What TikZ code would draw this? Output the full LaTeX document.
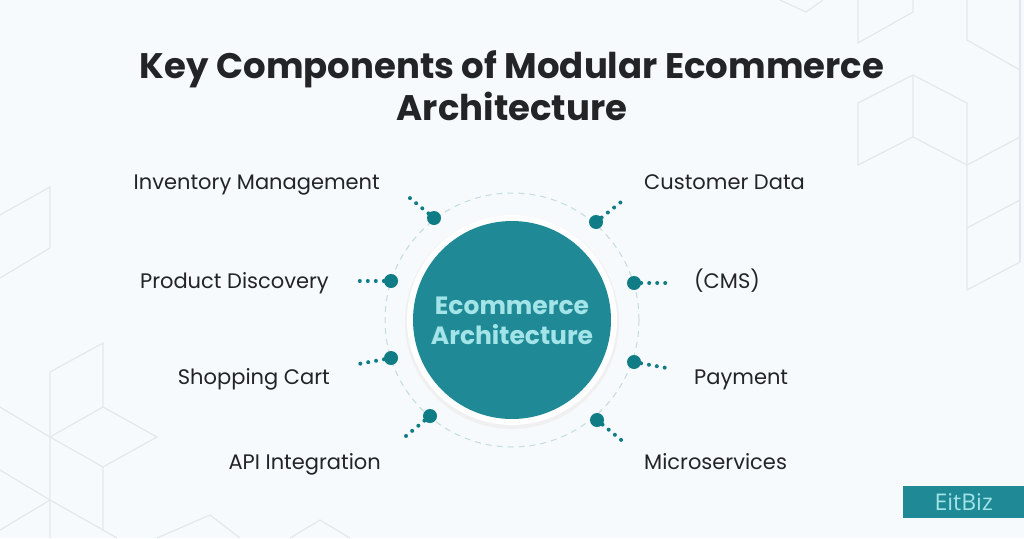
\documentclass[tikz,border=0pt]{standalone}
\usepackage{fontspec}
\setmainfont{Poppins}
\newfontfamily\tagfont{Open Sans}
\usetikzlibrary{positioning,calc}

\definecolor{bgpaper}{HTML}{F6FAFC}
\definecolor{teal}{HTML}{1F8A96}
\definecolor{tealdot}{HTML}{0F7C86}
\definecolor{tealtext}{HTML}{A3E4E8}
\definecolor{inkdark}{HTML}{222426}
\definecolor{cubeline}{HTML}{E3E8EC}
\definecolor{ringdash}{HTML}{C3DCDF}

\begin{document}
\begin{tikzpicture}[x=1pt,y=-1pt]
  \tikzstyle{hub}=[circle,fill=teal,minimum size=198pt,inner sep=0pt]
  \tikzstyle{dotnode}=[circle,fill=tealdot,minimum size=14pt,inner sep=0pt]
  \tikzstyle{lbl}=[font=\fontsize{21}{25}\selectfont,text=inkdark,inner sep=0pt]
  \tikzstyle{trail}=[tealdot,line width=4pt,line cap=round,dash pattern=on 0pt off 8pt]

  % paper and bounding box
  \fill[bgpaper] (0,0) rectangle (1024,538);
  \useasboundingbox (0,0) rectangle (1024,538);

  % faint cube pattern
  \begin{scope}[cubeline,line width=1.2pt]
    \draw (858,0) -- (858,43) -- (913,12) -- (913,0);
    \draw (780,0) -- (806,12) -- (823,0);
    \draw (858,103) -- (913,75) -- (967,103) -- (967,290);
    \draw (913,75) -- (913,137) -- (967,165) -- (1020,137);
    \draw (858,103) -- (858,165) -- (913,137);
    \draw (967,0) -- (967,40) -- (1020,70);
    \draw (1020,0) -- (1020,262);
    \draw (967,228) -- (1020,200);
    \draw (967,290) -- (1020,262);
    \draw (0,215) -- (50,187) -- (50,248) -- (0,278);
    \draw (50,538) -- (50,372) -- (103,343) -- (103,407) -- (157,437) -- (103,467) -- (50,437);
    \draw (0,407) -- (50,437) -- (103,407);
    \draw (103,467) -- (103,530) -- (117,538);
    \draw (0,470) -- (50,500) -- (103,530);
    \draw (50,500) -- (0,530);
    \draw (157,538) -- (210,515) -- (240,538);
    \draw (290,538) -- (320,520) -- (350,538);
  \end{scope}

  % title
  \node[font=\fontsize{35.5}{42}\selectfont\bfseries,text=inkdark,anchor=base] (title1) at (512,78) {Key Components of Modular Ecommerce};
  \node[font=\fontsize{35.5}{42}\selectfont\bfseries,text=inkdark,anchor=base] (title2) at (512,120) {Architecture};

  % ring and hub
  \draw[ringdash,line width=1pt,dash pattern=on 6pt off 5pt] (512,320) circle (127);
  \fill[black!6] (512,322) circle (107);
  \fill[white] (512,320) circle (105);
  \node[hub] (hub) at (512,320) {};
  \node[font=\fontsize{25}{30}\selectfont\bfseries,text=tealtext,align=center] (hubtxt) at (512,321) {Ecommerce\\Architecture};

  % components
  \foreach \nm/\dx/\dy/\ex/\ey/\lx/\ly/\anc/\txt in {
      inv/434/218/405/194/380/189/east/Inventory Management,
      cust/596/222/626/198/644/189/west/Customer Data,
      prod/391/281/355/281/329/288/east/Product Discovery,
      cms/634/283/672/283/694/288/west/(CMS),
      cart/391/358/353/365/330/384/east/Shopping Cart,
      pay/634/362/672/369/694/384/west/Payment,
      api/430/416/400/441/381/469/east/API Integration,
      micro/597/420/626/444/644/469/west/Microservices} {
    \node[dotnode] (\nm) at (\dx,\dy) {};
    \coordinate (\nm-end) at (\ex,\ey);
    \draw[trail] (\nm) -- (\nm-end);
    \node[lbl,anchor=base \anc] (\nm-lbl) at (\lx,\ly) {\txt};
  }

  % brand tag
  \node[fill=teal,text=tealtext,font=\tagfont\fontsize{23}{26}\selectfont,minimum width=121pt,minimum height=32pt,inner sep=0pt,anchor=north west] (brand) at (903,486) {EitBiz};
\end{tikzpicture}
\end{document}
